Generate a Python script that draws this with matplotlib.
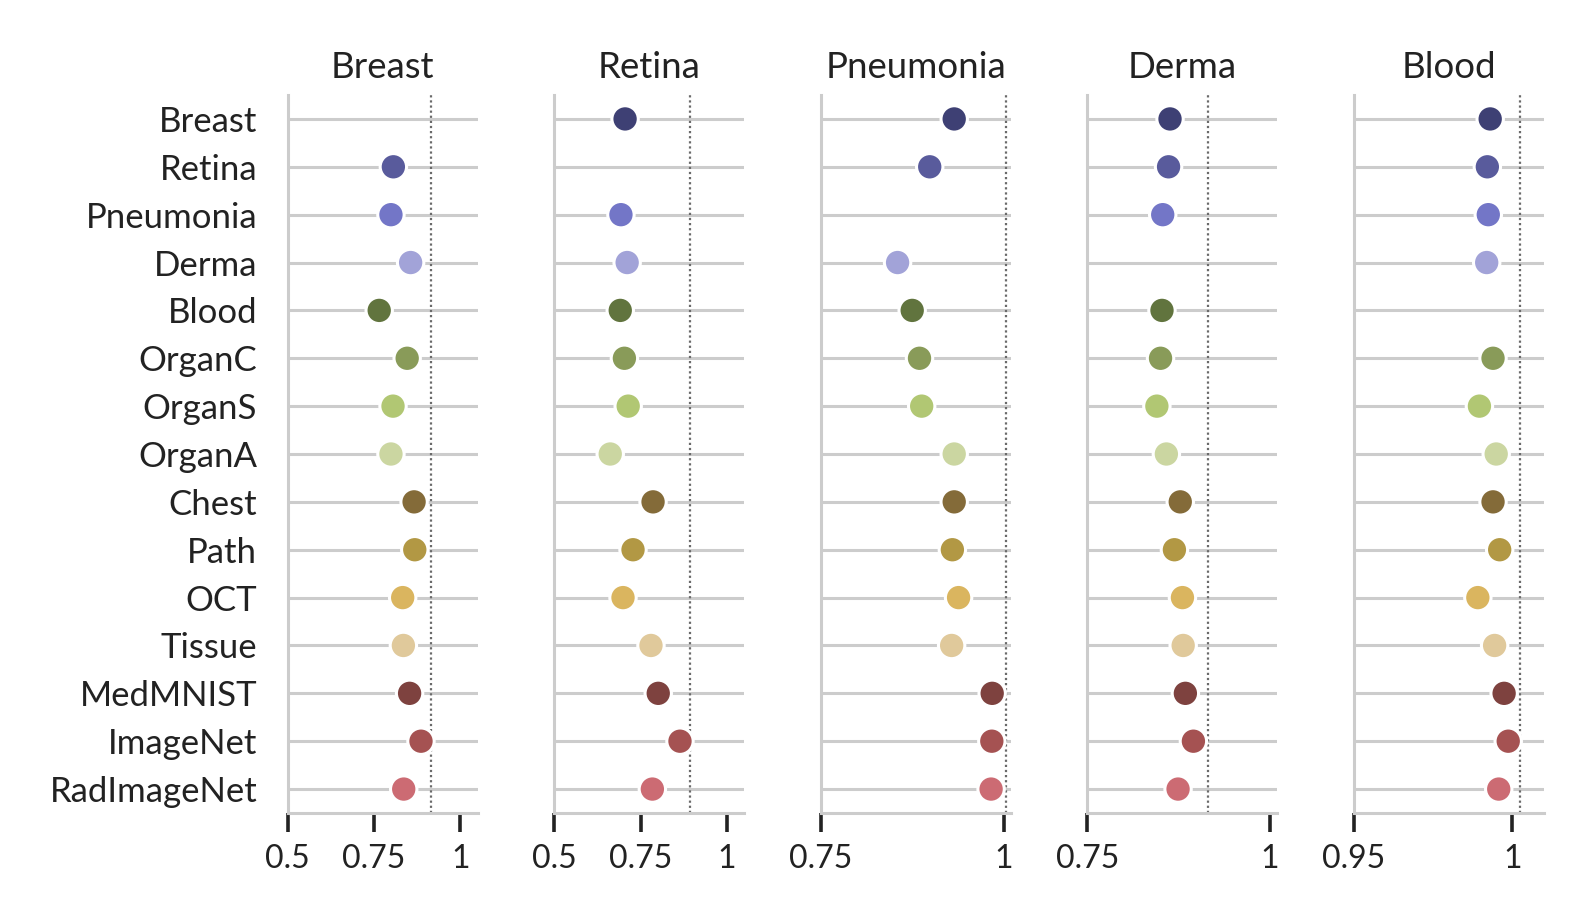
import colorsys
import numpy as np
import matplotlib
matplotlib.use("Agg")
import matplotlib.pyplot as plt
from matplotlib.colors import to_rgb

# ---- data ----
sources = ["Breast", "Retina", "Pneumonia", "Derma", "Blood", "OrganC", "OrganS",
           "OrganA", "Chest", "Path", "OCT", "Tissue", "MedMNIST", "ImageNet", "RadImageNet"]
targets = ["Breast", "Retina", "Pneumonia", "Derma", "Blood"]

breast_vals = [np.nan, 0.806, 0.799, 0.856, 0.765, 0.846, 0.805, 0.799, 0.866, 0.868,
               0.833, 0.835, 0.853, 0.886, 0.836]
retina_vals = [0.705, np.nan, 0.693, 0.711, 0.691, 0.703, 0.714, 0.662, 0.786, 0.728,
               0.699, 0.780, 0.801, 0.864, 0.784]
pneumonia_vals = [0.9325, 0.899, np.nan, 0.855, 0.875, 0.885, 0.888, 0.9325, 0.9325, 0.930,
                  0.9385, 0.929, 0.9845, 0.984, 0.983]
derma_vals = [0.863, 0.861, 0.853, np.nan, 0.852, 0.850, 0.845, 0.858, 0.877, 0.869,
              0.880, 0.881, 0.884, 0.895, 0.874]
blood_vals = [0.9930, 0.9921, 0.9924, 0.9919, np.nan, 0.9939, 0.9896, 0.9949, 0.9939, 0.9960,
              0.9891, 0.9944, 0.9974, 0.9987, 0.9957]

reference_vals = [0.916, 0.894, 1.004, 0.915, 1.0025]

xlims = [(0.5, 1.05), (0.5, 1.05), (0.75, 1.01), (0.75, 1.01), (0.95, 1.01)]
xticks = [[0.5, 0.75, 1.0], [0.5, 0.75, 1.0], [0.75, 1.0], [0.75, 1.0], [0.95, 1.0]]
xticklabels = [["0.5", "0.75", "1"], ["0.5", "0.75", "1"], ["0.75", "1"], ["0.75", "1"], ["0.95", "1"]]

all_vals = [breast_vals, retina_vals, pneumonia_vals, derma_vals, blood_vals]


def desaturate(c, prop):
    h, l, s = colorsys.rgb_to_hls(*to_rgb(c))
    return colorsys.hls_to_rgb(h, l, s * prop)


colors = [desaturate(matplotlib.colormaps["tab20b"](i), 0.83) for i in range(len(sources))]

# ---- style ----
plt.rcParams["font.family"] = ["Lato", "DejaVu Sans"]
text_color = "#222222"
grey = "#cccccc"

fig, axes = plt.subplots(1, 5, figsize=(7.9, 4.62), dpi=200, sharey=True)
W, H = 1580, 924
fig.subplots_adjust(left=287.7 / W, right=(1354 + 190) / W,
                    top=1 - 95 / H, bottom=1 - 813 / H, wspace=76.7 / 190)

ypos = np.arange(len(sources))
for i, ax in enumerate(axes):
    vals = np.array(all_vals[i], dtype=float)
    ax.set_axisbelow(True)
    ax.yaxis.grid(True, color=grey, lw=1.1, zorder=0)
    ax.xaxis.grid(False)
    ax.axvline(reference_vals[i], color="#6a6a6a", lw=0.8, ls=(0, (1, 1.3)), zorder=1.5)
    ax.scatter(vals, ypos, s=9.5 ** 2, c=colors, edgecolors="white",
               linewidths=1.1, zorder=3, clip_on=False)
    ax.set_xlim(*xlims[i])
    ax.set_xticks(xticks[i])
    ax.set_xticklabels(xticklabels[i])
    ax.set_ylim(len(sources) - 0.5, -0.5)
    ax.set_title(targets[i], fontsize=13.2, color=text_color, pad=6)
    for s in ["top", "right"]:
        ax.spines[s].set_visible(False)
    for s in ["left", "bottom"]:
        ax.spines[s].set_color(grey)
        ax.spines[s].set_linewidth(1.1)
        ax.spines[s].set_zorder(2.6)
    ax.tick_params(axis="x", length=7, width=1.3, color=text_color, direction="out",
                   pad=4, labelsize=11.5, labelcolor=text_color)
    ax.tick_params(axis="y", length=0, pad=11, labelsize=12.5, labelcolor=text_color)
    if i > 0:
        ax.tick_params(axis="y", labelleft=False)

axes[0].set_yticks(ypos)
axes[0].set_yticklabels(sources)

fig.savefig("out.png", dpi=200)
